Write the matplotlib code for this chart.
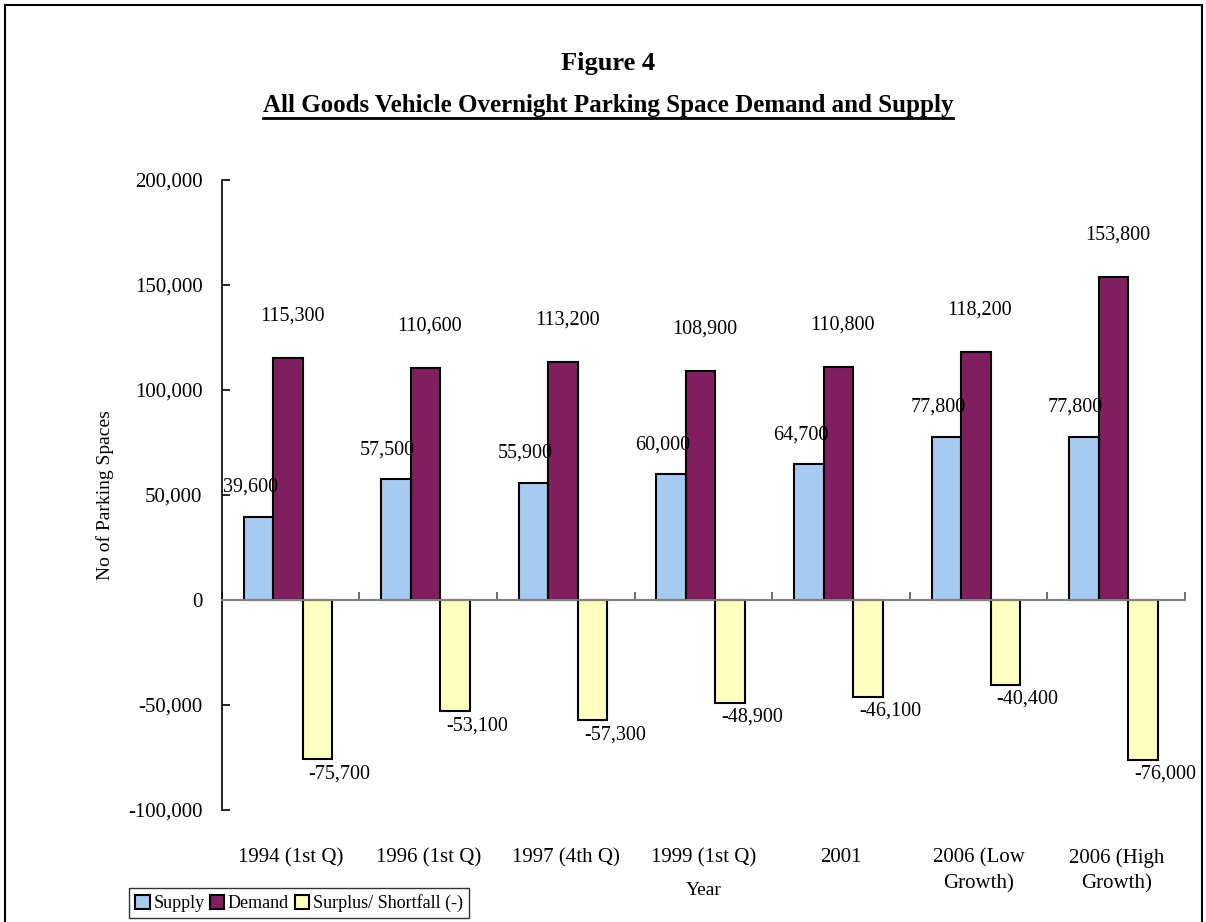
import matplotlib.pyplot as plt
from matplotlib.patches import Rectangle
from matplotlib.lines import Line2D
import numpy as np

categories = ['1994 (1st Q)', '1996 (1st Q)', '1997 (4th Q)', '1999 (1st Q)',
              '2001', '2006 (Low\nGrowth)', '2006 (High\nGrowth)']
supply = [39600, 57500, 55900, 60000, 64700, 77800, 77800]
demand = [115300, 110600, 113200, 108900, 110800, 118200, 153800]
surplus = [-75700, -53100, -57300, -48900, -46100, -40400, -76000]

plt.rcParams['font.family'] = ['Liberation Serif', 'DejaVu Serif']

fig = plt.figure(figsize=(12.06, 9.22), dpi=100)
ax = fig.add_axes([0.184, 0.1215, 0.7986, 0.6833])

x = np.arange(len(categories)) + 0.48
w = 0.215
ax.bar(x - w, supply, width=w, color='#A6CAF0', edgecolor='black', lw=1.5, label='Supply')
ax.bar(x, demand, width=w, color='#7F1F5F', edgecolor='black', lw=1.5, label='Demand')
ax.bar(x + w, surplus, width=w, color='#FFFFC0', edgecolor='black', lw=1.5, label='Surplus/ Shortfall (-)')

fmt = lambda v: f'{v:,}'
for xi, v in zip(x, supply):
    ax.text(xi - w - 0.06, v + 14000, fmt(v), ha='center', va='center', fontsize=14.5)
for xi, v in zip(x, demand):
    ax.text(xi + 0.03, v + 20000, fmt(v), ha='center', va='center', fontsize=14.5)
for xi, v in zip(x, surplus):
    ax.text(xi + w + 0.16, v - 7000, fmt(v), ha='center', va='center', fontsize=14.5)

ax.set_xlim(0, 7)
ax.set_ylim(-100000, 200000)
ax.set_yticks(np.arange(-100000, 200001, 50000))
ax.set_yticklabels([fmt(int(t)) for t in np.arange(-100000, 200001, 50000)], fontsize=15)
ax.tick_params(axis='y', direction='in', length=6, width=1.2, pad=14)
ax.set_xticks(np.arange(0, 8))
ax.set_xticklabels([])
ax.tick_params(axis='x', direction='in', length=6, width=1.2, color='#555555')

for s in ['top', 'right']:
    ax.spines[s].set_visible(False)
ax.spines['bottom'].set_position(('data', 0))
ax.spines['bottom'].set_color('#808080')
ax.spines['bottom'].set_linewidth(1.5)
ax.spines['left'].set_linewidth(1.2)

for xi, c in zip(x + 0.02, categories):
    ax.text(xi, -0.06, c, transform=ax.get_xaxis_transform(), ha='center', va='top',
            fontsize=15, linespacing=1.5)
ax.text(0.5, -0.128, 'Year', transform=ax.transAxes, ha='center', va='center', fontsize=14)
ax.set_ylabel('No of Parking Spaces', fontsize=14, labelpad=10)

fig.text(0.504, 0.931, 'Figure 4', ha='center', va='center', fontsize=19, fontweight='bold')
sub = fig.text(0.504, 0.886, 'All Goods Vehicle Overnight Parking Space Demand and Supply',
               ha='center', va='center', fontsize=18, fontweight='bold')

leg = ax.legend(loc='lower left', bbox_to_anchor=(0.107, 0.004), bbox_transform=fig.transFigure,
                ncol=3, frameon=True, fancybox=False, fontsize=13, handlelength=0.8,
                handleheight=0.8, handletextpad=0.2, columnspacing=0.3, borderpad=0.35,
                borderaxespad=0)
leg.get_frame().set_edgecolor('black')
leg.get_frame().set_linewidth(1.0)

# underline the subtitle
fig.canvas.draw()
bb = sub.get_window_extent(fig.canvas.get_renderer()).transformed(fig.transFigure.inverted())
fig.add_artist(Line2D([bb.x0, bb.x1], [bb.y0 - 0.002, bb.y0 - 0.002], color='black', lw=2,
                      transform=fig.transFigure))

fig.add_artist(Rectangle((0.004, -0.05), 0.993, 1.045, transform=fig.transFigure,
                         fill=False, edgecolor='black', lw=1.5))

fig.savefig('out.png', dpi=100)
